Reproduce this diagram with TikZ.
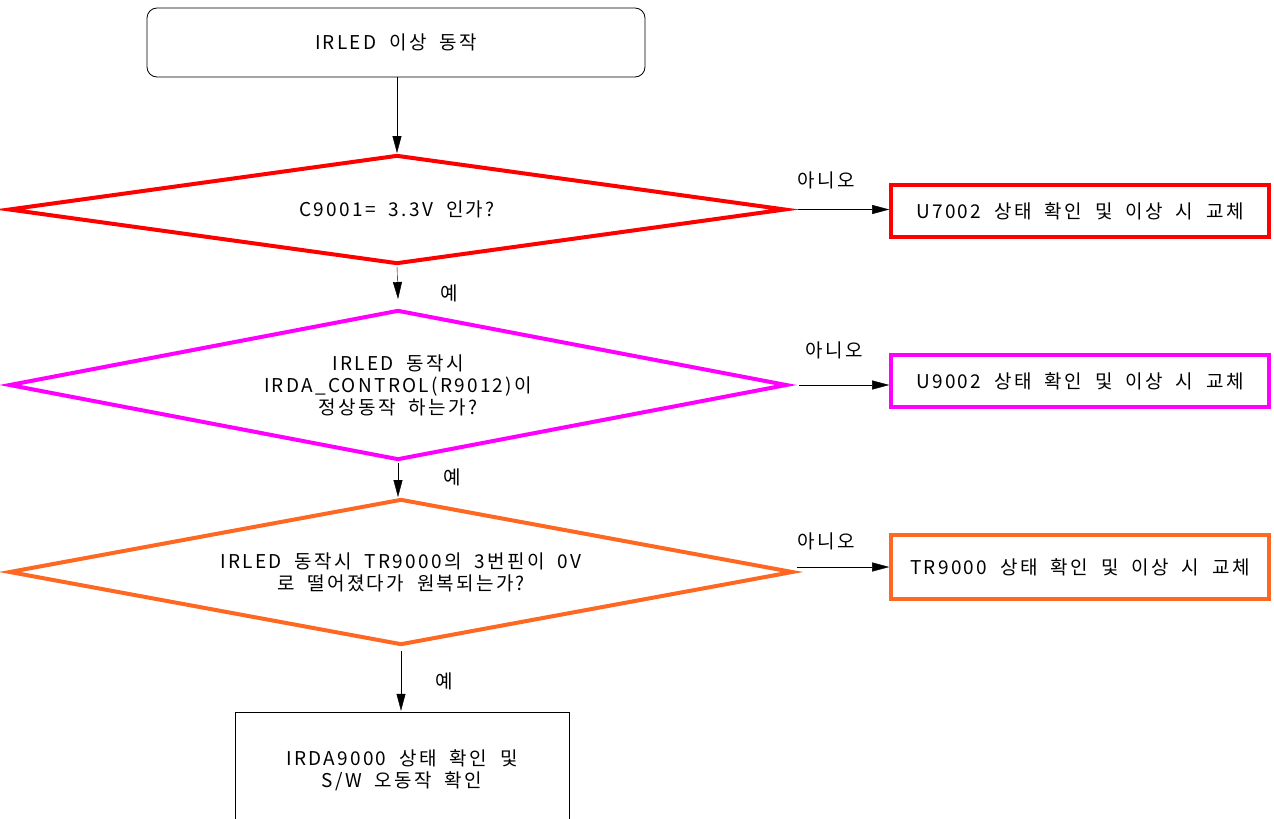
\documentclass[tikz,border=0pt]{standalone}
\usepackage{fontspec}
\setmainfont[LetterSpace=12]{Noto Sans CJK KR}
\usepackage{tikz}
\usetikzlibrary{shapes,arrows.meta,positioning,calc}

\definecolor{chkred}{RGB}{255,0,0}
\definecolor{chkmag}{RGB}{255,0,255}
\definecolor{chkorange}{RGB}{255,104,34}

\begin{document}
\begin{tikzpicture}[x=1pt,y=-1pt,
    every node/.style={font=\fontsize{19}{22}\selectfont, align=center},
    flow/.style={-{Triangle[length=17pt,width=9pt]}},
    question/.style={diamond, draw, line width=4pt, inner sep=0pt},
    fixbox/.style={rectangle, draw, line width=3.6pt, minimum width=378pt, inner sep=0pt},
    answer/.style={font=\fontsize{19}{20}\selectfont}]
						\path[use as bounding box, clip] (0,0) rectangle (1274,819);
						\node[draw, thick, rounded corners=10pt, minimum width=498pt, minimum height=69pt] (start) at (396,42.5) {IRLED \ 이상 \ 동작}; % Start
						\node[question, chkred, text=black, minimum width=777pt, minimum height=109pt, aspect=7.1] (c9001) at (397,209.5) {C9001= \ 3.3V \ 인가?};
						\node[question, chkmag, text=black, minimum width=778pt, minimum height=150pt, aspect=5.2] (ctrl) at (398,385) {IRLED \ 동작시\\IRDA\_CONTROL(R9012)이\\정상동작 \ 하는가?};
						\node[question, chkorange, text=black, minimum width=784pt, minimum height=146pt, aspect=5.4] (tr3pin) at (401,572) {IRLED \ 동작시 \ TR9000의 \ 3번핀이 \ 0V\\로 \ 떨어졌다가 \ 원복되는가?};
						\node[draw, minimum width=334pt, minimum height=116pt] (irda) at (402,770) {IRDA9000 \ 상태 \ 확인 \ 및\\S/W \ 오동작 \ 확인}; % End
						\node[fixbox, chkred, text=black, minimum height=52pt] (u7002) at (1080,211) {U7002 \ 상태 \ 확인 \ 및 \ 이상 \ 시 \ 교체};
						\node[fixbox, chkmag, text=black, minimum height=52pt] (u9002) at (1080,381) {U9002 \ 상태 \ 확인 \ 및 \ 이상 \ 시 \ 교체};
						\node[fixbox, chkorange, text=black, minimum height=64pt] (tr9000) at (1080,567) {TR9000 \ 상태 \ 확인 \ 및 \ 이상 \ 시 \ 교체};
						% yes path
						\draw[flow] (start.south -| c9001.north) -- (c9001.north);
						\draw[flow, shorten <=1pt] (c9001.south) -- ($(ctrl.north)+(0,-9)$);
						\draw[flow, shorten <=1pt] (ctrl.south) -- (ctrl.south |- tr3pin.north);
						\draw[flow, shorten <=4pt, shorten >=1pt] (tr3pin.south) -- (tr3pin.south |- irda.north);
						\node[answer] (yes1) at (449,293) {예};
						\node[answer] (yes2) at (452,477) {예};
						\node[answer] (yes3) at (444,681) {예};
						% no path
						\draw[flow, shorten <=10pt] (c9001.east) -- (c9001.east -| u7002.west);
						\draw[flow, shorten <=10pt] (ctrl.east) -- (ctrl.east -| u9002.west);
						\draw[flow, shorten <=2pt] (tr3pin.east |- tr9000.west) -- (tr9000.west);
						\node[answer] (no1) at (826,180) {아니오};
						\node[answer] (no2) at (834,350) {아니오};
						\node[answer] (no3) at (826,541) {아니오};
					\end{tikzpicture}
\end{document}
